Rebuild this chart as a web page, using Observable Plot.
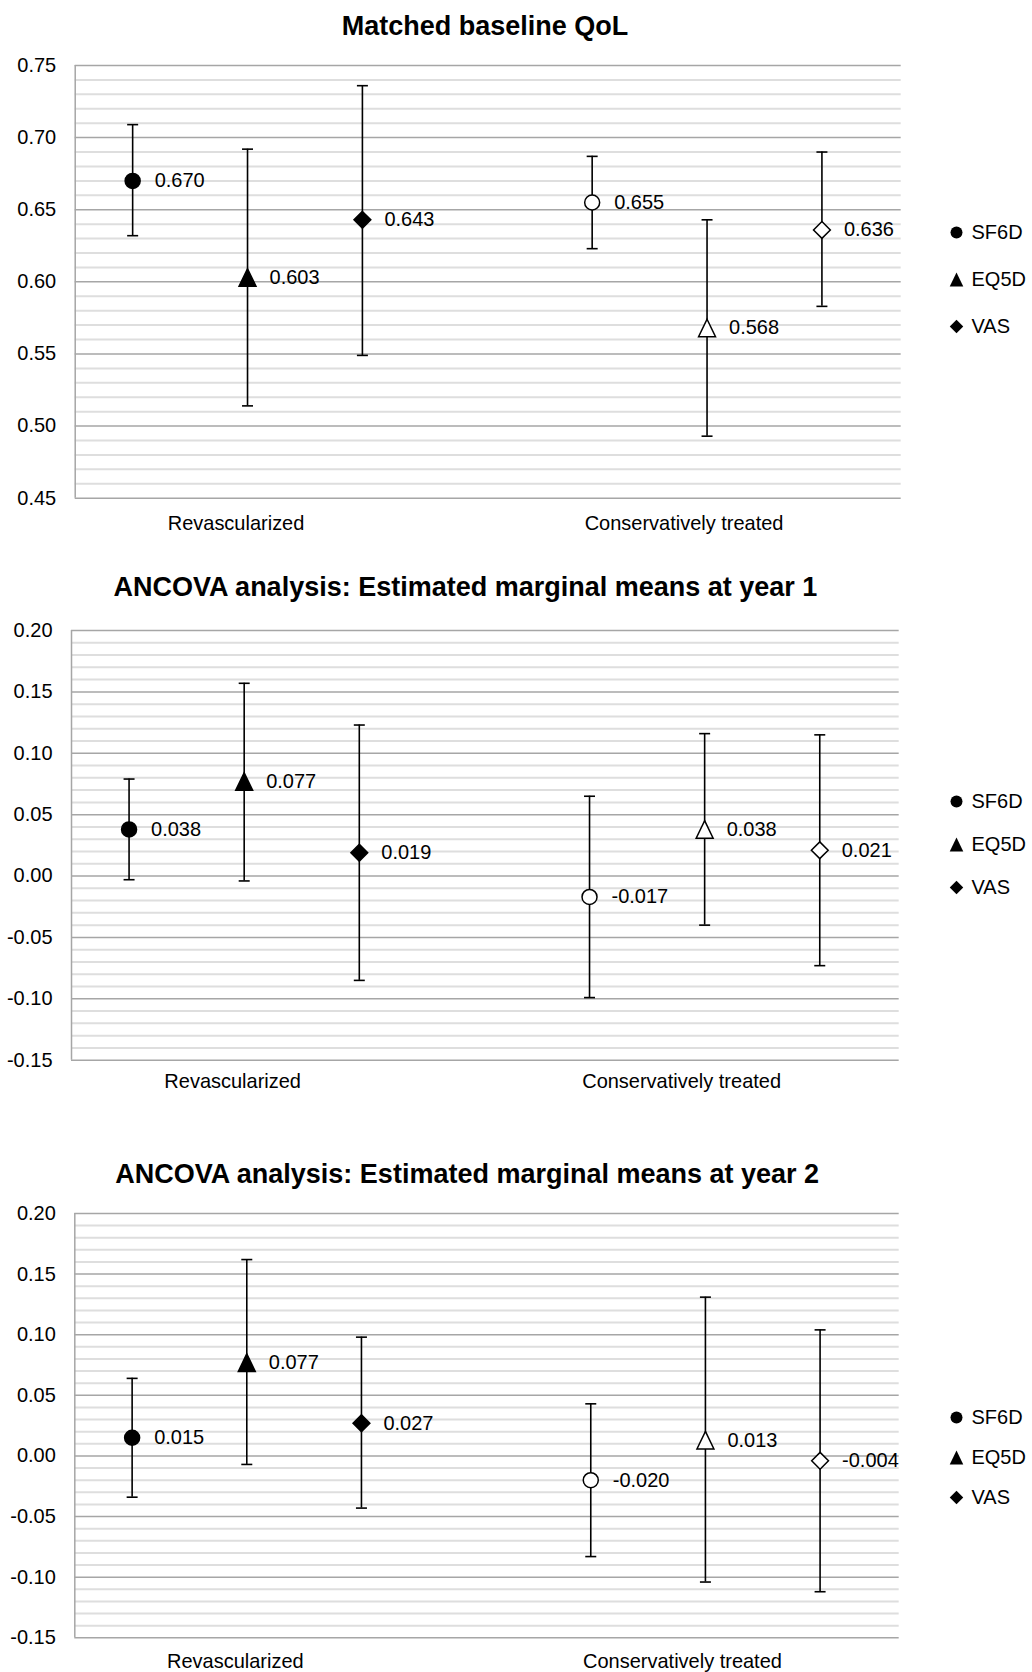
<!DOCTYPE html>
<html><head><meta charset="utf-8">
<script src="https://cdn.jsdelivr.net/npm/d3@7"></script>
<script src="https://cdn.jsdelivr.net/npm/@observablehq/plot@0.6"></script>
<style>
body{margin:0;background:#fff;}
#page{position:relative;width:1032px;height:1672px;overflow:hidden;background:#fff;font-family:"Liberation Sans",Arial,sans-serif;}
.title{position:absolute;font-weight:bold;font-size:27px;white-space:nowrap;transform:translate(-50%,-50%);color:#000;line-height:1;}
.abs{position:absolute;left:0;top:0;}
</style></head><body><div id="page"></div>
<script>
// ---------- data ----------
const groups = ["Revascularized", "Conservatively treated"];
const metrics = ["SF6D", "EQ5D", "VAS"];
const titles = ["Matched baseline QoL",
  "ANCOVA analysis: Estimated marginal means at year 1",
  "ANCOVA analysis: Estimated marginal means at year 2"];

// [group][metric]
const baselineMean = [[0.670, 0.603, 0.643], [0.655, 0.568, 0.636]];
const baselineLow  = [[0.632, 0.514, 0.549], [0.623, 0.493, 0.583]];
const baselineHigh = [[0.709, 0.692, 0.736], [0.687, 0.643, 0.690]];

const year1Mean = [[0.038, 0.077, 0.019], [-0.017, 0.038, 0.021]];
const year1Low  = [[-0.003, -0.004, -0.085], [-0.099, -0.040, -0.073]];
const year1High = [[0.079, 0.157, 0.123], [0.065, 0.116, 0.115]];

const year2Mean = [[0.015, 0.077, 0.027], [-0.020, 0.013, -0.004]];
const year2Low  = [[-0.034, -0.007, -0.043], [-0.083, -0.104, -0.112]];
const year2High = [[0.064, 0.162, 0.098], [0.043, 0.131, 0.104]];

const baselineAxis = [0.45, 0.75];
const ancovaAxis = [-0.15, 0.20];

// ---------- symbols ----------
const rOf = s => Math.sqrt(s / Math.PI);
const symCircle = {draw(c, s) { const r = rOf(s); c.moveTo(r, 0); c.arc(0, 0, r, 0, 2 * Math.PI); c.closePath(); }};
const symTriangle = {draw(c, s) { const r = rOf(s), w = r * 1.13, h = r * 1.17; c.moveTo(0, -h); c.lineTo(w, h); c.lineTo(-w, h); c.closePath(); }};
const symDiamond = {draw(c, s) { const r = rOf(s), d = r * 1.12; c.moveTo(0, -d); c.lineTo(d, 0); c.lineTo(0, d); c.lineTo(-d, 0); c.closePath(); }};
const symCap = {draw(c, s) { const r = rOf(s); c.moveTo(-r, 0); c.lineTo(r, 0); }};
const symbolRange = [symCircle, symTriangle, symDiamond];

const font = '"Liberation Sans", Arial, sans-serif';
const baseStyle = {fontFamily: font, fontSize: "20px", color: "black", background: "transparent", overflow: "visible"};
const catTicks = [1.9, 5.8];

const page = document.getElementById("page");

function panel(cfg, mean, low, high) {
  const rows = [];
  groups.forEach((g, gi) => metrics.forEach((m, mi) => rows.push({
    group: g, metric: m, slot: gi * 4 + mi + 1,
    mean: mean[gi][mi], lo: low[gi][mi], hi: high[gi][mi]
  })));
  const [y0, y1] = cfg.domain;
  const all = d3.range(Math.round(y0 * 100), Math.round(y1 * 100) + 1).map(v => v / 100);
  const major = all.filter(v => Math.round(v * 100) % 5 === 0);
  const minor = all.filter(v => Math.round(v * 100) % 5 !== 0);
  const T = 20, B = 50;
  const svg = Plot.plot({
    width: 1032,
    height: T + (cfg.bottom - cfg.top) + B,
    marginTop: T, marginBottom: B,
    marginLeft: cfg.left, marginRight: 1032 - cfg.right,
    x: {domain: [0.5, 7.69], axis: null},
    y: {domain: cfg.domain, axis: null},
    symbol: {domain: metrics, range: symbolRange},
    style: baseStyle,
    marks: [
      Plot.ruleY(minor, {stroke: "#dedede", strokeWidth: 2}),
      Plot.ruleY(major, {stroke: "#a6a6a6", strokeWidth: 1.5}),
      Plot.ruleX([0.5], {stroke: "#a6a6a6", strokeWidth: 1.5}),
      Plot.axisY(major, {tickSize: 0, tickPadding: 19, tickFormat: d => d.toFixed(2), fontSize: 20, label: null}),
      Plot.axisX(catTicks, {tickSize: 0, tickPadding: cfg.catPad, tickFormat: d => groups[catTicks.indexOf(d)], fontSize: 20, label: null}),
      Plot.ruleX(rows, {x: "slot", y1: "lo", y2: "hi", stroke: "black", strokeWidth: 1.6}),
      Plot.dot(rows, {x: "slot", y: "hi", symbol: symCap, r: 5.5, fill: "none", stroke: "black", strokeWidth: 1.6}),
      Plot.dot(rows, {x: "slot", y: "lo", symbol: symCap, r: 5.5, fill: "none", stroke: "black", strokeWidth: 1.6}),
      Plot.dot(rows, {x: "slot", y: "mean", symbol: "metric", r: 7.5,
        fill: d => d.group === groups[0] ? "black" : "white", stroke: "black", strokeWidth: 1.5}),
      Plot.text(rows, {x: "slot", y: "mean", text: d => d.mean.toFixed(3), dx: 22, textAnchor: "start", fontSize: 20, fill: "black"})
    ]
  });
  svg.classList.add("abs");
  svg.style.top = (cfg.top - T) + "px";
  page.appendChild(svg);

  const t = document.createElement("div");
  t.className = "title";
  t.textContent = cfg.title;
  t.style.left = cfg.titleX + "px";
  t.style.top = cfg.titleY + "px";
  page.appendChild(t);

  const pad = 15;
  const [l0, l1] = cfg.legend;
  const leg = Plot.plot({
    width: 90, height: (l1 - l0) + 2 * pad,
    marginTop: pad, marginBottom: pad, marginLeft: 10, marginRight: 0,
    x: {axis: null, domain: [0, 1]},
    y: {type: "point", domain: metrics, padding: 0, axis: null},
    symbol: {domain: metrics, range: symbolRange},
    style: baseStyle,
    marks: [
      Plot.dot(metrics, {y: d => d, symbol: d => d, frameAnchor: "left", r: 6, fill: "black", stroke: "none"}),
      Plot.text(metrics, {y: d => d, text: d => d, frameAnchor: "left", dx: 15, textAnchor: "start", fontSize: 20, fill: "black"})
    ]
  });
  leg.classList.add("abs");
  leg.style.left = (955.7 - 10) + "px";
  leg.style.top = (l0 - pad) + "px";
  page.appendChild(leg);
}

panel({title: titles[0], titleX: 485, titleY: 25.5, top: 65, bottom: 497.7, left: 74.7, right: 900.7,
       domain: baselineAxis, catPad: 18, legend: [232.3, 326.7]},
      baselineMean, baselineLow, baselineHigh);
panel({title: titles[1], titleX: 465.5, titleY: 586.7, top: 630, bottom: 1059.7, left: 71, right: 898.7,
       domain: ancovaAxis, catPad: 14, legend: [800.6, 887]},
      year1Mean, year1Low, year1High);
panel({title: titles[2], titleX: 467.2, titleY: 1174, top: 1213, bottom: 1637.3, left: 74.3, right: 898.7,
       domain: ancovaAxis, catPad: 16, legend: [1416, 1497.3]},
      year2Mean, year2Low, year2High);
</script></body></html>
